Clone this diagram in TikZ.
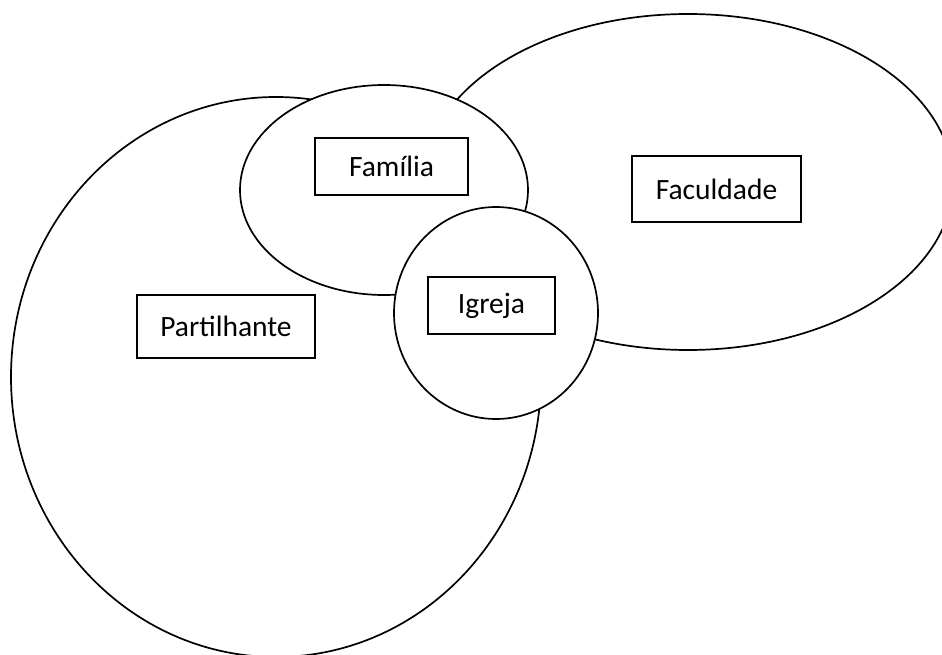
\documentclass[tikz,border=0pt]{standalone}
\usepackage{fontspec}
\setmainfont{Carlito}
\usetikzlibrary{shapes.geometric}
\begin{document}
\begin{tikzpicture}[x=1pt,y=-1pt,
  region/.style={ellipse,draw,fill=white,line width=1.7pt,inner sep=0pt,outer sep=0pt},
  namebox/.style={rectangle,draw,fill=white,line width=1.8pt,inner sep=0pt,outer sep=0pt,
    font=\fontsize{29.5}{35}\selectfont}]
\useasboundingbox (0,0) rectangle (942,655);
\fill[white] (0,0) rectangle (942,655);
\clip (0,0) rectangle (942,655);
\node[region,minimum width=530pt,minimum height=560pt] (partilhante) at (276,377) {};
\node[region,minimum width=530pt,minimum height=336pt] (faculdade) at (688,182) {};
\node[region,minimum width=288pt,minimum height=210pt] (familia) at (384,190) {};
\node[region,minimum width=204pt,minimum height=212pt] (igreja) at (496,313) {};
\node[namebox,minimum width=153pt,minimum height=57pt] (tfam) at (391.5,166.5) {Família};
\node[namebox,minimum width=169pt,minimum height=66pt] (tfac) at (716.5,189) {Faculdade};
\node[namebox,minimum width=178pt,minimum height=63pt] (tpar) at (226,326.5) {Partilhante};
\node[namebox,minimum width=127pt,minimum height=57pt] (tigr) at (491.5,305.5) {Igreja};
\end{tikzpicture}
\end{document}
